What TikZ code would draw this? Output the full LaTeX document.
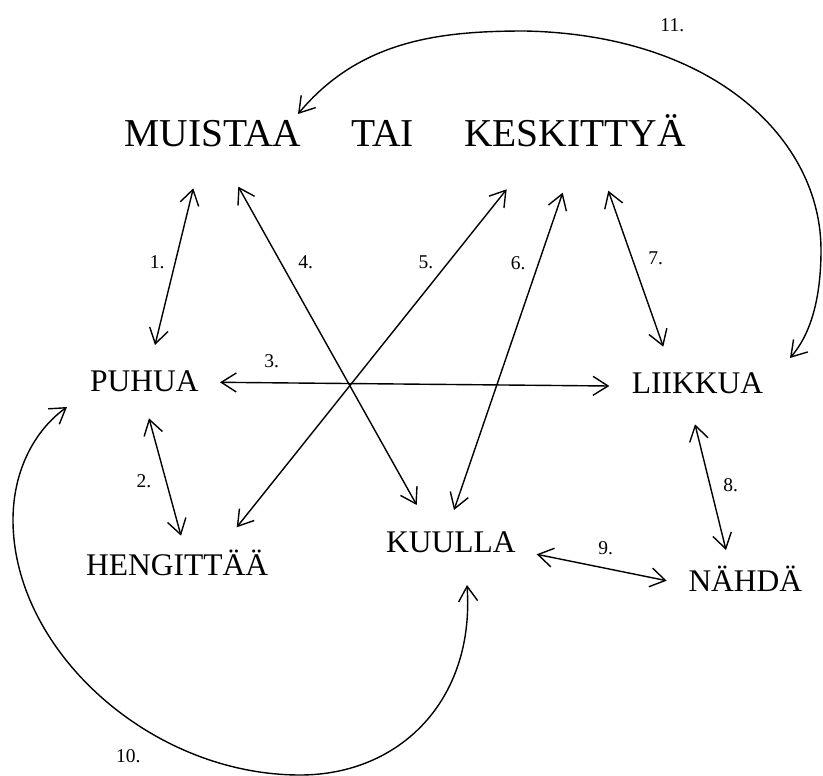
\documentclass[tikz,border=0pt]{standalone}
\usepackage{fontspec}
\setmainfont{Liberation Serif}
\usetikzlibrary{arrows.meta}
\begin{document}
\begin{tikzpicture}[x=1pt,y=-1pt,
  word/.style={inner sep=0pt, anchor=base west, font=\fontsize{31.5}{36}\selectfont},
  ttl/.style={inner sep=0pt, anchor=base west, font=\fontsize{39.5}{44}\selectfont},
  num/.style={inner sep=0pt, font=\fontsize{19.5}{22}\selectfont},
  link/.style={line width=1.4pt, line cap=round,
    {Straight Barb[length=15pt,width=19pt]}-{Straight Barb[length=15pt,width=19pt]}}]
\useasboundingbox (0,0) rectangle (823,776);
% words
\node[ttl] (mu) at (124.5,146.7) {MUISTAA};
\node[ttl] (tai) at (351,146.7) {TAI};
\node[ttl] (ke) at (463.8,146.7) {KESKITTYÄ};
\node[word] (puhua) at (90,391.7) {PUHUA};
\node[word] (heng) at (86,575.7) {HENGITTÄÄ};
\node[word] (kuulla) at (386,552.3) {KUULLA};
\node[word] (liik) at (631.7,393.3) {LIIKKUA};
\node[word] (nahda) at (688.3,591.7) {NÄHDÄ};
% connector ends
\coordinate (a1t) at (193.3,188.3); \coordinate (a1b) at (155,345);
\coordinate (a2t) at (149,418.3);   \coordinate (a2b) at (181,535.7);
\coordinate (a3l) at (220,382.3);   \coordinate (a3r) at (609.3,386);
\coordinate (a4t) at (238.3,186.7); \coordinate (a4b) at (416.7,505);
\coordinate (a5t) at (506.7,189.3); \coordinate (a5b) at (236.7,527.3);
\coordinate (a6t) at (562.7,192.7); \coordinate (a6b) at (454,510);
\coordinate (a7t) at (608.3,190.7); \coordinate (a7b) at (663.3,346.7);
\coordinate (a8t) at (695,424.3);   \coordinate (a8b) at (726,550);
\coordinate (a9l) at (536.7,554.3); \coordinate (a9r) at (666.7,580.7);
\coordinate (a10k) at (467,585);    \coordinate (a10p) at (67,407);
\coordinate (a11m) at (298,114);    \coordinate (a11l) at (790,358);
% connectors
\draw[link] (a1t) -- (a1b);
\draw[link] (a2t) -- (a2b);
\draw[link] (a3l) -- (a3r);
\draw[link] (a4t) -- (a4b);
\draw[link] (a5t) -- (a5b);
\draw[link] (a6t) -- (a6b);
\draw[link] (a7t) -- (a7b);
\draw[link] (a8t) -- (a8b);
\draw[link] (a9l) -- (a9r);
\draw[link] (a10k) .. controls (475,700) and (400,775) .. (300,775)
  .. controls (150,775) and (13,650) .. (13,520)
  .. controls (13,470) and (35,430) .. (a10p);
\draw[link] (a11m) .. controls (360,40) and (440,31) .. (525,31)
  .. controls (715,35) and (821,140) .. (821,250)
  .. controls (821,300) and (810,335) .. (a11l);
% numbers
\node[num] (n1) at (157.3,262.7) {1.};
\node[num] (n2) at (144,480.7) {2.};
\node[num] (n3) at (271.7,360.7) {3.};
\node[num] (n4) at (305.7,262.7) {4.};
\node[num] (n5) at (426,262.7) {5.};
\node[num] (n6) at (518.3,262.7) {6.};
\node[num] (n7) at (655.7,258.3) {7.};
\node[num] (n8) at (730.7,485) {8.};
\node[num] (n9) at (605.7,548.3) {9.};
\node[num] (n10) at (128.3,755.7) {10.};
\node[num] (n11) at (672.3,25) {11.};
\end{tikzpicture}
\end{document}
